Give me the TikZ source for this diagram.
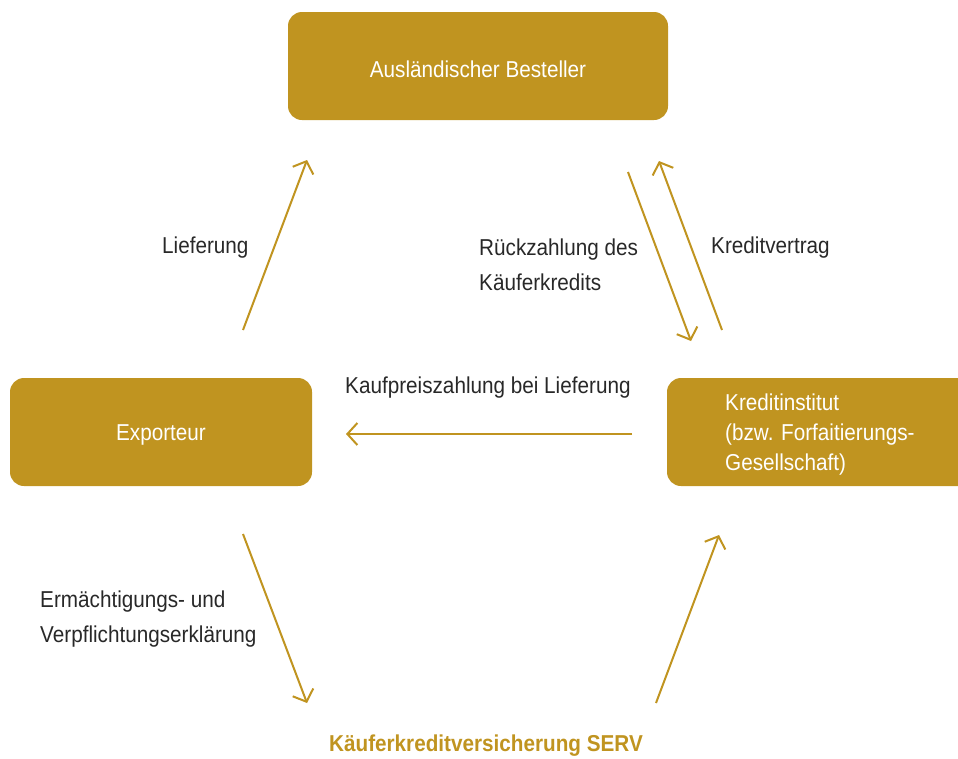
\documentclass[tikz,border=0pt]{standalone}
\usepackage{fontspec}
\setmainfont{Liberation Sans}[FakeStretch=0.9]
\usetikzlibrary{arrows.meta,positioning}
\definecolor{servgold}{RGB}{192,148,32}
\definecolor{servtext}{RGB}{40,40,40}

\tikzset{
  party/.style={fill=servgold, rounded corners=14pt, text=white},
  flow/.style={draw=servgold, line width=2pt, -{Straight Barb[length=10pt,width=22pt,line width=2pt]}},
  lbl/.style={text=servtext, align=left, inner sep=0pt}
}

\begin{document}
\begin{tikzpicture}[x=1pt, y=-1pt, font=\fontsize{23}{35}\selectfont]
    \useasboundingbox (0,0) rectangle (958,758);

    \path[party] (288,12) rectangle (668,120);
    \node[text=white] (besteller) at (478,69) {Ausländischer Besteller};
    \path[party] (10,378) rectangle (312,486);
    \node[text=white] (exporteur) at (161,435) {Exporteur};
    \path[party] (667,378) rectangle (972,486);
    \node[text=white, align=left, anchor=west, inner sep=0pt,
          font=\fontsize{23}{30}\selectfont] (bank) at (725,435)
          {Kreditinstitut\\(bzw. Forfaitierungs-\\Gesellschaft)};
    \node[text=servgold, font=\fontsize{23}{30}\selectfont\bfseries] (serv) at (486,746)
          {Käuferkreditversicherung SERV};

    \coordinate (liefA) at (243,330);
    \coordinate (liefB) at (307,160);
    \coordinate (rueckA) at (628,172);
    \coordinate (rueckB) at (691,341);
    \coordinate (vertrA) at (722,330);
    \coordinate (vertrB) at (659,161);
    \coordinate (kaufA) at (632,434);
    \coordinate (kaufB) at (346,434);
    \coordinate (ermA) at (243,534);
    \coordinate (ermB) at (307,703);
    \coordinate (deckA) at (656,703);
    \coordinate (deckB) at (719,535);

    \draw[flow] (liefA) -- (liefB);
    \draw[flow] (rueckA) -- (rueckB);
    \draw[flow] (vertrA) -- (vertrB);
    \draw[flow] (kaufA) -- (kaufB);
    \draw[flow] (ermA) -- (ermB);
    \draw[flow] (deckA) -- (deckB);

    \node[lbl, anchor=west] (lieflbl) at (162,248) {Lieferung};
    \node[lbl, anchor=west] (rueckl) at (479,265) {Rückzahlung des\\Käuferkredits};
    \node[lbl, anchor=west] (vertrl) at (711,248) {Kreditvertrag};
    \node[lbl, anchor=west] (kaufl) at (345,388) {Kaufpreiszahlung bei Lieferung};
    \node[lbl, anchor=west] (erml) at (40,619) {Ermächtigungs- und\\Verpflichtungserklärung};
\end{tikzpicture}
\end{document}
